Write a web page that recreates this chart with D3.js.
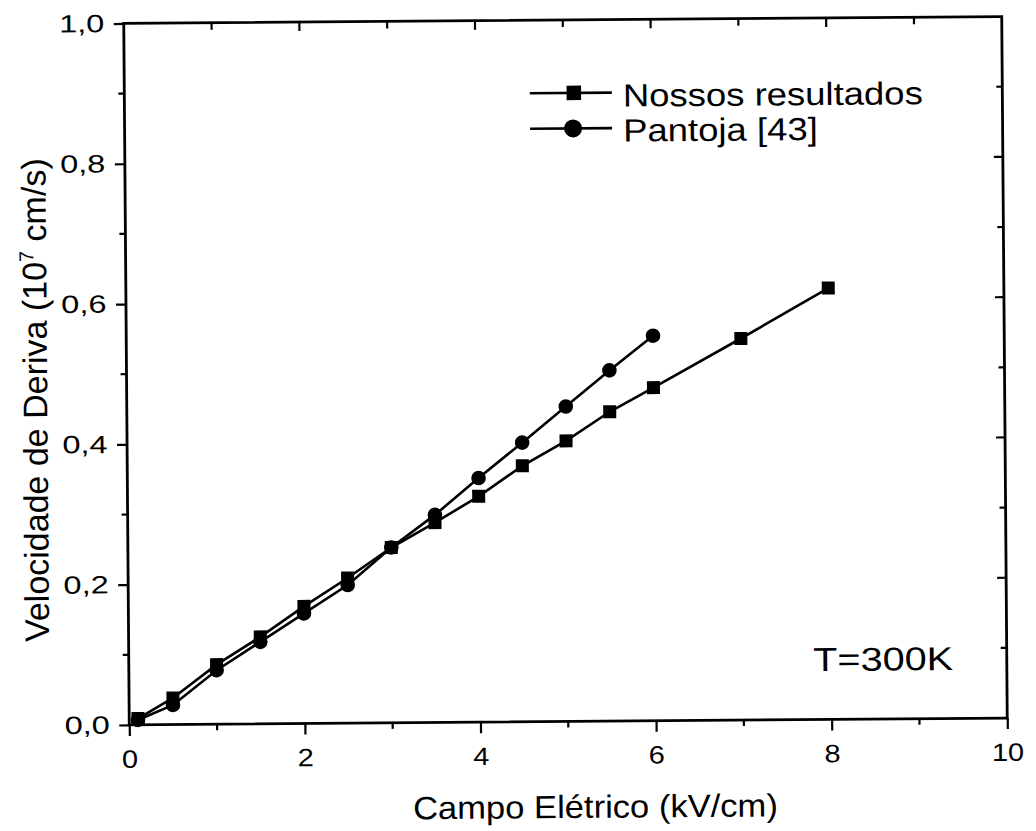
<!DOCTYPE html>
<html>
<head>
<meta charset="utf-8">
<script src="https://cdn.jsdelivr.net/npm/d3@7"></script>
<style>
  html, body { margin: 0; padding: 0; background: #fff; }
  svg { display: block; }
  text { font-family: "Liberation Sans", Arial, sans-serif; fill: #000; }
</style>
</head>
<body>
<script>
// Drift velocity vs. electric field at T = 300 K
const fieldSim = [0.1, 0.5, 1.0, 1.5, 2.0, 2.5, 3.0, 3.5, 4.0, 4.5, 5.0, 5.5, 6.0, 7.0, 8.0];
const velSim   = [0.009, 0.038, 0.085, 0.124, 0.167, 0.207, 0.25, 0.285, 0.322, 0.365, 0.40, 0.441, 0.475, 0.544, 0.615];
const fieldRef = [0.1, 0.5, 1.0, 1.5, 2.0, 2.5, 3.0, 3.5, 4.0, 4.5, 5.0, 5.5, 6.0];
const velRef   = [0.007, 0.028, 0.077, 0.117, 0.157, 0.197, 0.25, 0.296, 0.348, 0.398, 0.449, 0.50, 0.549];
const xTicks = [0, 2, 4, 6, 8, 10];
const yTicks = [0, 0.2, 0.4, 0.6, 0.8, 1.0];
const seriesNames = ["Nossos resultados", "Pantoja [43]"];

const W = 1036, H = 831;
const m = { left: 126.5, right: 1004.5, top: 20, bottom: 721.5 };

const svg = d3.select("body").append("svg").attr("width", W).attr("height", H);
const cx = (m.left + m.right) / 2, cy = (m.top + m.bottom) / 2;
const g = svg.append("g").attr("transform", `rotate(-0.45 ${cx} ${cy})`);

const x = d3.scaleLinear().domain([0, 10]).range([m.left, m.right]);
const y = d3.scaleLinear().domain([0, 1]).range([m.bottom, m.top]);
const fmt = d => d3.format(".1f")(d).replace(".", ",");

// wide-set label helper: text drawn at (px, py) and stretched horizontally
function label(parent, px, py, str, size, sx, anchor) {
  return parent.append("text")
    .attr("transform", `translate(${px},${py}) scale(${sx},1)`)
    .attr("text-anchor", anchor || "start")
    .style("font-size", size + "px")
    .text(str);
}

// frame
g.append("rect").attr("x", m.left).attr("y", m.top)
  .attr("width", m.right - m.left).attr("height", m.bottom - m.top)
  .attr("fill", "none").attr("stroke", "#000").attr("stroke-width", 2.8);

// bottom axis (outward ticks, minor every 1)
const xAxis = d3.axisBottom(x).tickValues(xTicks).tickFormat(d3.format("d")).tickSize(11).tickPadding(14);
const gx = g.append("g").attr("transform", `translate(0,${m.bottom})`).call(xAxis);
gx.select(".domain").remove();
gx.selectAll("line").attr("stroke", "#000").attr("stroke-width", 2.2);
gx.selectAll("text").style("font-size", "25px").attr("font-family", null)
  .attr("transform", "scale(1.16,1)");
g.append("g").selectAll("line").data(d3.range(1, 10, 2)).join("line")
  .attr("x1", d => x(d)).attr("x2", d => x(d))
  .attr("y1", m.bottom).attr("y2", m.bottom + 6)
  .attr("stroke", "#000").attr("stroke-width", 2.2);

// top mirrored ticks (inward)
g.append("g").selectAll("line").data(d3.range(1, 10, 1)).join("line")
  .attr("x1", d => x(d)).attr("x2", d => x(d))
  .attr("y1", m.top).attr("y2", d => m.top + (d % 2 === 0 ? 9 : 7))
  .attr("stroke", "#000").attr("stroke-width", 2.2);

// left axis
const yAxis = d3.axisLeft(y).tickValues(yTicks).tickFormat(fmt).tickSize(10).tickPadding(5);
const gy = g.append("g").attr("transform", `translate(${m.left},0)`).call(yAxis);
gy.select(".domain").remove();
gy.selectAll("line").attr("stroke", "#000").attr("stroke-width", 2.2);
gy.selectAll("text").style("font-size", "25px").attr("font-family", null)
  .attr("transform", "scale(1.3,1)");
g.append("g").selectAll("line").data([0.1, 0.3, 0.5, 0.7, 0.9]).join("line")
  .attr("x1", m.left - 6).attr("x2", m.left)
  .attr("y1", d => y(d)).attr("y2", d => y(d))
  .attr("stroke", "#000").attr("stroke-width", 2.2);

// right mirrored ticks (inward)
g.append("g").selectAll("line").data(d3.range(1, 10, 1)).join("line")
  .attr("x1", m.right).attr("x2", d => m.right - (d % 2 === 0 ? 9 : 6))
  .attr("y1", d => y(d / 10)).attr("y2", d => y(d / 10))
  .attr("stroke", "#000").attr("stroke-width", 2.2);

// axis titles
label(g, 592, 818, "Campo Elétrico (kV/cm)", 32, 1.08, "middle");
const yt = g.append("text").attr("transform", "translate(47,396) rotate(-90)")
  .attr("text-anchor", "middle").style("font-size", "34px");
yt.append("tspan").text("Velocidade de Deriva (10");
yt.append("tspan").attr("dy", -13).style("font-size", "20px").text("7");
yt.append("tspan").attr("dy", 13).text(" cm/s)");

// series
const line = d3.line().x(d => x(d[0])).y(d => y(d[1]));
const simPts = fieldSim.map((f, i) => [f, velSim[i]]);
const refPts = fieldRef.map((f, i) => [f, velRef[i]]);

g.append("path").datum(refPts).attr("d", line)
  .attr("fill", "none").attr("stroke", "#000").attr("stroke-width", 2.6);
g.append("path").datum(simPts).attr("d", line)
  .attr("fill", "none").attr("stroke", "#000").attr("stroke-width", 2.6);

const sq = 13;
g.append("g").selectAll("rect").data(simPts).join("rect")
  .attr("x", d => x(d[0]) - sq / 2).attr("y", d => y(d[1]) - sq / 2)
  .attr("width", sq).attr("height", sq).attr("fill", "#000");
g.append("g").selectAll("circle").data(refPts).join("circle")
  .attr("cx", d => x(d[0])).attr("cy", d => y(d[1])).attr("r", 7.3).attr("fill", "#000");

// legend
const legend = g.append("g");
const rows = [{ y: 93, base: 107, mark: "square" }, { y: 128.5, base: 142, mark: "circle" }];
rows.forEach((r, i) => {
  legend.append("line").attr("x1", 532).attr("x2", 614).attr("y1", r.y).attr("y2", r.y)
    .attr("stroke", "#000").attr("stroke-width", 2.6);
  if (r.mark === "square") {
    const s = 14.5;
    legend.append("rect").attr("x", 576 - s / 2).attr("y", r.y - s / 2)
      .attr("width", s).attr("height", s).attr("fill", "#000");
  } else {
    legend.append("circle").attr("cx", 575).attr("cy", r.y).attr("r", 9).attr("fill", "#000");
  }
  label(legend, 625, r.base, seriesNames[i], 32, 1.14);
});

label(g, 811, 673, "T=300K", 33, 1.2);
</script>
</body>
</html>
